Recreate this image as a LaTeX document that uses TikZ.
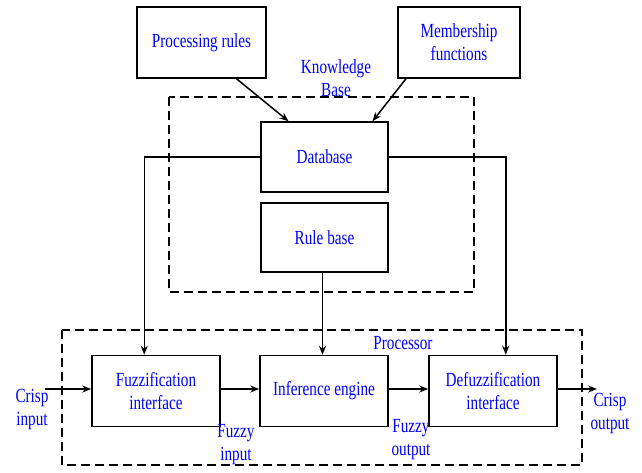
\documentclass[tikz,border=0pt]{standalone}
\usepackage{fontspec}
\setmainfont[FakeStretch=0.76]{Liberation Serif}
\usetikzlibrary{arrows.meta, positioning}

\begin{document}
\begin{tikzpicture}[x=1pt, y=-1pt, >={Stealth[length=9pt,width=7pt]},
    block/.style={draw, line width=1.5pt, minimum width=128pt, minimum height=71pt,
        align=center, font=\fontsize{20}{23}\selectfont, text=blue},
    lbl/.style={align=center, font=\fontsize{20}{23}\selectfont, text=blue, inner sep=0pt},
    frame/.style={line width=1.4pt, dash pattern=on 9pt off 5pt},
    link/.style={->, line width=1.5pt}]
    \useasboundingbox (0,0) rectangle (642,472);

    % knowledge base
    \node[block, minimum width=129pt] (pr) at (201.5,42.5) {Processing rules};
    \node[block, minimum width=122pt] (mf) at (459,42.5) {Membership\\functions};
    \draw[frame] (169,97) rectangle (474,292);
    \node[lbl] (kb) at (336,78) {Knowledge\\Base};
    \node[block, minimum width=127pt, minimum height=70pt] (db) at (324.5,157) {Database};
    \node[block, minimum width=127pt, minimum height=69pt] (rb) at (324.5,237.5) {Rule base};

    % processor
    \draw[frame] (62,330) rectangle (582,465);
    \node[lbl] (proc) at (403,343) {Processor};
    \node[block] (fz) at (156,391) {Fuzzification\\interface};
    \node[block] (ie) at (324,391) {Inference engine};
    \node[block] (dfz) at (493,391) {Defuzzification\\interface};

    \node[lbl] (cin) at (32,409) {Crisp\\input};
    \node[lbl] (fin) at (236,445) {Fuzzy\\input};
    \node[lbl] (fout) at (411,440) {Fuzzy\\output};
    \node[lbl] (cout) at (610,413) {Crisp\\output};
    \coordinate (cinx) at (45,389);
    \coordinate (coutx) at (597,389);

    % connectors
    \draw[link] ([xshift=35pt]pr.south) -- ([xshift=-36pt]db.north);
    \draw[link] ([xshift=-53pt]mf.south) -- ([xshift=48pt]db.north);
    \draw[link] (db.west) -| ([xshift=53pt]fz.north west);
    \draw[link] (db.east) -| ([xshift=-52pt]dfz.north east);
    \draw[link] ([xshift=-2pt]rb.south) -- ([xshift=-2pt]rb.south |- ie.north);
    \draw[link] (cinx) -- (cinx -| fz.west);
    \draw[link] (fz.east |- cinx) -- (ie.west |- cinx);
    \draw[link] (ie.east |- cinx) -- (dfz.west |- cinx);
    \draw[link] (dfz.east |- coutx) -- (coutx);
\end{tikzpicture}
\end{document}
